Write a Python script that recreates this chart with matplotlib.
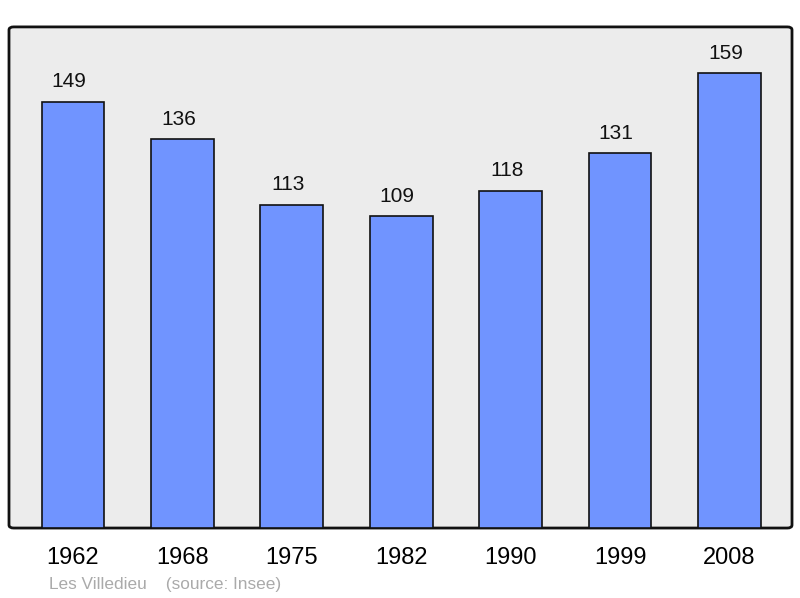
import matplotlib.pyplot as plt
from matplotlib.patches import FancyBboxPatch

years = ['1962', '1968', '1975', '1982', '1990', '1999', '2008']
population = [149, 136, 113, 109, 118, 131, 159]
commune = 'Les Villedieu'
source = '(source: Insee)'

plt.rcParams['font.family'] = ['Liberation Sans', 'DejaVu Sans']

fig = plt.figure(figsize=(8, 5.98), dpi=100)
ax = fig.add_axes([0.01125, 0.117, 0.97875, 0.838])
ax.set_facecolor('none')

# background box with slightly rounded corners
bg = FancyBboxPatch((0, 0), 1, 1, boxstyle='round,pad=0,rounding_size=0.006',
                    transform=ax.transAxes, facecolor='#ececec', edgecolor='#111111',
                    linewidth=2, zorder=0, clip_on=False)
ax.add_patch(bg)

x = range(len(years))
ax.bar(x, population, width=0.575, color='#7094ff', edgecolor='#111111',
       linewidth=1.2, zorder=2)
# value labels sit a little left of the bar centre in the original
for xi, v in zip(x, population):
    ax.annotate(str(v), (xi, v), xytext=(-4, 20), textcoords='offset pixels',
                ha='center', va='center', fontsize=15, color='#111111')

ax.set_xlim(-0.585, 6.572)
ax.set_ylim(0, 175.2)
ax.set_xticks(list(x))
ax.set_xticklabels(years, fontsize=17)
ax.tick_params(axis='x', length=0, pad=14)
ax.set_yticks([])
for s in ax.spines.values():
    s.set_visible(False)

fig.text(49 / 800, 1 - 584 / 598, commune + '    ' + source, fontsize=12.4,
         color='#aaaaaa', ha='left', va='center')

fig.savefig('out.png', dpi=100)
